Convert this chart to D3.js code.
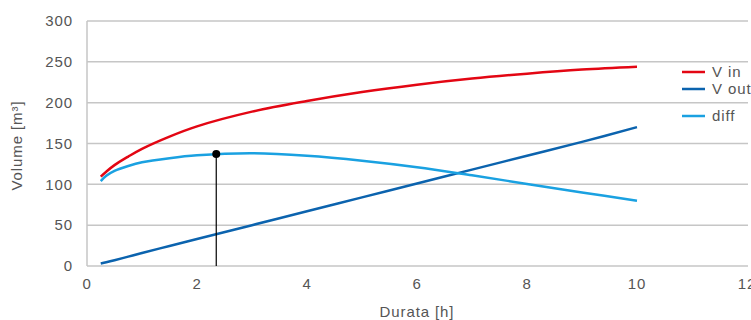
<!DOCTYPE html>
<html lang="it">
<head>
  <meta charset="UTF-8">
  <title>Volume</title>
  <script src="https://d3js.org/d3.v7.min.js"></script>
  <style>
    body { margin: 0; background: #fff; }
    svg { font-family: "Liberation Sans", Arial, sans-serif; }
    .tick-label, .axis-title, .legend-label { font-size: 15px; fill: #555; letter-spacing: 0.9px; }
  </style>
</head>
<body>
  <svg></svg>
  <script>
    const hours = [0.25, 0.35, 0.5, 0.75, 1, 1.5, 2, 3, 4, 5, 6, 7, 8, 9, 10];
    const vIn = [109.5, 115.5, 123.5, 134, 143.5, 158.5, 171, 189, 202, 213, 222, 229.5, 235.5, 240.5, 244];
    const vOut = [3, 4.5, 7, 11.5, 16, 24.5, 33, 50, 67, 84, 101, 118, 135, 152, 170];
    const diff = [104, 110.5, 116.5, 122.5, 127, 132, 135.5, 138, 135, 129, 121, 111, 100.5, 90, 80];
    const xTicks = [0, 2, 4, 6, 8, 10, 12];
    const yTicks = [0, 50, 100, 150, 200, 250, 300];
    const peak = { h: 2.35, v: 137 };
    const seriesNames = ['V in', 'V out', 'diff'];
    const seriesColors = ['#e30613', '#0b63ae', '#1aa1e1'];

    const W = 751, H = 320;
    const margin = { top: 21, right: 3, bottom: 54, left: 87 };
    const width = W - margin.left - margin.right;
    const height = H - margin.top - margin.bottom;

    const svg = d3.select('svg').attr('width', W).attr('height', H);
    const g = svg.append('g').attr('transform', `translate(${margin.left},${margin.top})`);

    const x = d3.scaleLinear().domain([0, 12]).range([0, 660]);
    const y = d3.scaleLinear().domain([0, 300]).range([height, 0]);

    // griglia
    g.selectAll('.grid').data(yTicks).enter().append('line')
      .attr('x1', 0).attr('x2', width)
      .attr('y1', d => y(d)).attr('y2', d => y(d))
      .attr('stroke', '#c6c6c6').attr('stroke-width', 1.5);
    g.append('line')
      .attr('x1', 0).attr('x2', 0).attr('y1', 0).attr('y2', height)
      .attr('stroke', '#c6c6c6').attr('stroke-width', 1.5);

    g.selectAll('.ylab').data(yTicks).enter().append('text')
      .attr('class', 'tick-label')
      .attr('x', -14).attr('y', d => y(d)).attr('dy', '0.35em')
      .attr('text-anchor', 'end')
      .text(d => d);
    g.selectAll('.xlab').data(xTicks).enter().append('text')
      .attr('class', 'tick-label')
      .attr('x', d => x(d)).attr('y', height + 23)
      .attr('text-anchor', 'middle')
      .text(d => d);

    g.append('text').attr('class', 'axis-title')
      .attr('x', x(6)).attr('y', height + 51)
      .attr('text-anchor', 'middle')
      .text('Durata [h]');
    g.append('text').attr('class', 'axis-title')
      .attr('transform', `translate(${-65},${y(150) + 2}) rotate(-90)`)
      .attr('text-anchor', 'middle')
      .text('Volume [m³]');

    const line = d3.line().x((d, i) => x(hours[i])).y(d => y(d)).curve(d3.curveCatmullRom.alpha(0.5));
    [vIn, vOut, diff].forEach((s, i) => {
      g.append('path').datum(s)
        .attr('d', line)
        .attr('fill', 'none')
        .attr('stroke', seriesColors[i])
        .attr('stroke-width', 2.5);
    });

    // punto di massimo
    g.append('line')
      .attr('x1', x(peak.h)).attr('x2', x(peak.h))
      .attr('y1', y(peak.v)).attr('y2', y(0))
      .attr('stroke', '#000').attr('stroke-width', 1.2);
    g.append('circle')
      .attr('cx', x(peak.h)).attr('cy', y(peak.v)).attr('r', 4)
      .attr('fill', '#000');

    // legenda
    const legendY = [72, 89, 116];
    const legend = svg.append('g');
    seriesNames.forEach((name, i) => {
      legend.append('line')
        .attr('x1', 682).attr('x2', 705)
        .attr('y1', legendY[i]).attr('y2', legendY[i])
        .attr('stroke', seriesColors[i]).attr('stroke-width', 2.5);
      legend.append('text').attr('class', 'legend-label')
        .attr('x', 712).attr('y', legendY[i]).attr('dy', '0.35em')
        .text(name);
    });
  </script>
</body>
</html>
